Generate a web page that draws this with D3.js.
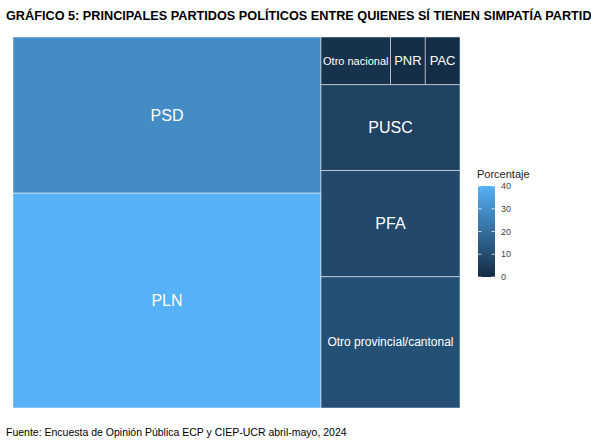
<!DOCTYPE html>
<html><head><meta charset="utf-8">
<script src="https://cdn.jsdelivr.net/npm/d3@7"></script>
<style>body{margin:0;background:#fff;font-family:"Liberation Sans",Arial,sans-serif;}</style>
</head><body><svg id="chart" width="591" height="448"></svg>
<script>
// values (percent)
const leftParties = ["PSD", "PLN"];
const leftValues = [29.0, 39.9];
const smallParties = ["Otro nacional", "PNR", "PAC"];
const smallValues = [2.0, 1.0, 1.0];
const rightParties = ["PUSC", "PFA", "Otro provincial/cantonal"];
const rightValues = [7.2, 8.9, 11.0];
const legendTicks = [0, 10, 20, 30, 40];

const svg = d3.select("#chart");
const plot = { x0: 13, y0: 37, x1: 460, y1: 408 };

svg.append("text").attr("x", 6).attr("y", 20)
  .style("font-size", "12.7px").style("font-weight", "bold")
  .text("GRÁFICO 5: PRINCIPALES PARTIDOS POLÍTICOS ENTRE QUIENES SÍ TIENEN SIMPATÍA PARTIDARIA");

const leaf = (n, v) => ({ name: n, value: v });
const tree = {
  children: [
    { children: leftParties.map((n, i) => leaf(n, leftValues[i])) },
    { children: [
        { children: smallParties.map((n, i) => leaf(n, smallValues[i])) },
        ...rightParties.map((n, i) => leaf(n, rightValues[i]))
      ] }
  ]
};

const root = d3.hierarchy(tree).sum(d => d.value || 0);
d3.treemap().tile(d3.treemapSliceDice)
  .size([plot.x1 - plot.x0, plot.y1 - plot.y0])(root);

const color = d3.scaleLinear().domain([0, 40]).range(["#132B43", "#56B1F7"]);

const cells = svg.append("g").attr("transform", `translate(${plot.x0},${plot.y0})`)
  .selectAll("g").data(root.leaves()).join("g");
cells.append("rect")
  .attr("x", d => d.x0).attr("y", d => d.y0)
  .attr("width", d => d.x1 - d.x0).attr("height", d => d.y1 - d.y0)
  .attr("fill", d => color(d.data.value))
  .attr("stroke", "#ffffff").attr("stroke-opacity", 0.6).attr("stroke-width", 0.8);
cells.append("text")
  .attr("x", d => (d.x0 + d.x1) / 2).attr("y", d => (d.y0 + d.y1) / 2)
  .attr("text-anchor", "middle").attr("dominant-baseline", "central")
  .attr("fill", "#ffffff")
  .style("font-size", d => {
    const w = d.x1 - d.x0;
    if (w > 200) return "16px";
    if (d.data.name.length > 10) return d.data.value > 5 ? "12px" : "11px";
    return d.data.value > 5 ? "16px" : "13px";
  })
  .text(d => d.data.name);

// legend
const lg = svg.append("g");
const ly = d3.scaleLinear().domain([0, 40]).range([277, 186]);
const grad = svg.append("defs").append("linearGradient").attr("id", "g")
  .attr("x1", 0).attr("y1", 1).attr("x2", 0).attr("y2", 0);
grad.append("stop").attr("offset", "0%").attr("stop-color", color(0));
grad.append("stop").attr("offset", "100%").attr("stop-color", color(40));
lg.append("text").attr("x", 477).attr("y", 178).style("font-size", "11px").attr("fill", "#222").text("Porcentaje");
lg.append("rect").attr("x", 478).attr("y", 186).attr("width", 17).attr("height", 91).attr("fill", "url(#g)");
lg.selectAll("line.t").data(legendTicks).join("line")
  .attr("x1", 478).attr("x2", 481.5).attr("y1", d => ly(d)).attr("y2", d => ly(d))
  .attr("stroke", "#fff").attr("stroke-opacity", 0.7);
lg.selectAll("line.t2").data(legendTicks).join("line")
  .attr("x1", 491.5).attr("x2", 495).attr("y1", d => ly(d)).attr("y2", d => ly(d))
  .attr("stroke", "#fff").attr("stroke-opacity", 0.7);
lg.selectAll("text.v").data(legendTicks).join("text")
  .attr("x", 501).attr("y", d => ly(d)).attr("dominant-baseline", "central")
  .style("font-size", "9px").attr("fill", "#444").text(d => d);

svg.append("text").attr("x", 6).attr("y", 436).style("font-size", "10.5px")
  .text("Fuente: Encuesta de Opinión Pública ECP y CIEP-UCR abril-mayo, 2024");
</script></body></html>
